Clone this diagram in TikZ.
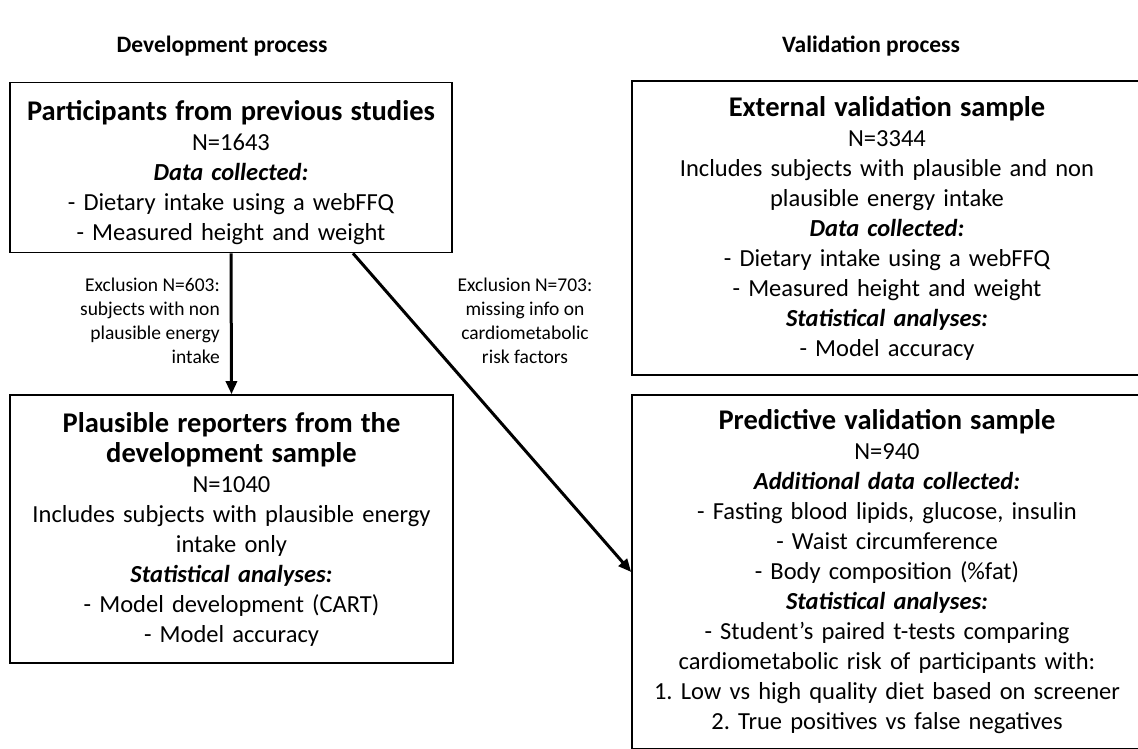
\documentclass[tikz,border=0pt]{standalone}
\usepackage{fontspec}
\setmainfont{Carlito}
\usepackage{tikz}
\usetikzlibrary{arrows.meta,calc}
\frenchspacing

\tikzset{
  box/.style={draw,line width=1.6pt,align=center,inner sep=0pt,
    font=\fontsize{24.5}{30}\selectfont},
  arr/.style={line width=3pt,-{Triangle[length=13pt,width=11pt]}},
  excl/.style={font=\fontsize{19.5}{24}\selectfont,inner sep=0pt},
  ttl/.style={font=\fontsize{23.5}{28}\selectfont\bfseries}
}
\newcommand{\hd}[1]{{\fontsize{28.5}{30}\selectfont\bfseries #1}}
\newcommand{\sub}[1]{\textbf{\textit{#1}}}

\begin{document}
\begin{tikzpicture}[x=1pt,y=-1pt]
\useasboundingbox (0,0) rectangle (1138,748);
\clip (0,0) rectangle (1138,748);

\node[ttl] (tdev) at (222,46) {Development process};
\node[ttl] (tval) at (871,46) {Validation process};

\node[box,minimum width=442pt,minimum height=170pt,text width=440pt] (part) at (231,167.5) {%
  \rule{0pt}{30pt}\hd{Participants from previous studies}\\
  N=1643\\
  \sub{Data collected:}\\
  - Dietary intake using a webFFQ\\
  - Measured height and weight};

\node[box,minimum width=443pt,minimum height=268pt,text width=440pt] (plaus) at (231.5,529) {
  \hd{Plausible reporters from the}\\
  \hd{development sample}\\
  N=1040\\
  Includes subjects with plausible energy\\
  intake only\\
  \sub{Statistical analyses:}\\
  - Model development (CART)\\
  - Model accuracy};

\node[box,minimum width=510pt,minimum height=294pt,text width=500pt] (ext) at (887,228) {
  \hd{External validation sample}\\
  N=3344\\
  Includes subjects with plausible and non\\
  plausible energy intake\\
  \sub{Data collected:}\\
  - Dietary intake using a webFFQ\\
  - Measured height and weight\\
  \sub{Statistical analyses:}\\
  - Model accuracy};

\node[box,minimum width=510pt,minimum height=354pt,text width=500pt] (pred) at (887,572) {
  \hd{Predictive validation sample}\\
  N=940\\
  \sub{Additional data collected:}\\
  - Fasting blood lipids, glucose, insulin\\
  - Waist circumference\\
  - Body composition (\%fat)\\
  \sub{Statistical analyses:}\\
  - Student’s paired t-tests comparing\\
  cardiometabolic risk of participants with:\\
  1. Low vs high quality diet based on screener\\
  2. True positives vs false negatives};

\draw[arr] (part.south) -- (plaus.north);
\draw[arr] ($(part.south west)!.775!(part.south east)$) -- (pred.west);

\node[excl,anchor=east,align=right] (ex1) at (220,321) {Exclusion N=603:\\subjects with non\\plausible energy\\intake};
\node[excl,align=center] (ex2) at (525,321) {Exclusion N=703:\\missing info on\\cardiometabolic\\risk factors};
\end{tikzpicture}
\end{document}
